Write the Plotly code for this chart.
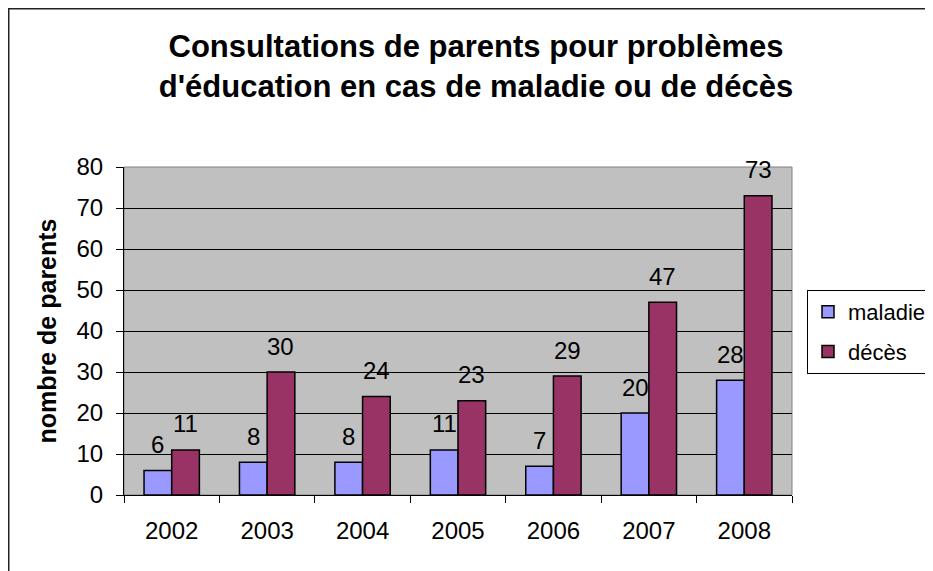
import plotly.graph_objects as go

YEARS = ["2002", "2003", "2004", "2005", "2006", "2007", "2008"]
MALADIE = [6, 8, 8, 11, 7, 20, 28]
DECES = [11, 30, 24, 23, 29, 47, 73]
SERIES = [("maladie", MALADIE, "#9999FF"), ("décès", DECES, "#993366")]
TITLE = "Consultations de parents pour problèmes<br>d'éducation en cas de maladie ou de décès"
Y_TITLE = "nombre de parents"

FONT = "Liberation Sans, Arial, sans-serif"
# the page body has an 8px margin, so the figure is 8px smaller than the window
W, H = 925, 563
M = dict(l=116, r=141, t=159, b=76)
PLOT_W = W - M["l"] - M["r"]
PLOT_H = H - M["t"] - M["b"]
BARGAP = 0.42
BAR_PX = PLOT_W / len(YEARS) * (1 - BARGAP) / 2


def px_x(p):
    # page pixel -> paper fraction
    return (p - 8 - M["l"]) / PLOT_W


def px_y(p):
    return (H - M["b"] - (p - 8)) / PLOT_H


fig = go.Figure()
for name, values, color in SERIES:
    fig.add_trace(go.Bar(
        x=YEARS, y=values, name=name, legendgroup=name,
        marker=dict(color=color, line=dict(color="black", width=1.5)),
        hoverinfo="x+y+name",
    ))

# data labels above each bar (category index as x so "2002" isn't read as a number)
for i, (name, values, color) in enumerate(SERIES):
    shift = (i - 0.5) * BAR_PX
    for j, v in enumerate(values):
        fig.add_annotation(
            x=j, y=v, text=str(v), showarrow=False,
            xshift=shift, yanchor="middle", yshift=26,
            font=dict(size=24, color="black", family=FONT),
        )

# outer chart frame (runs off the right and bottom edges)
fig.add_shape(
    type="rect", xref="paper", yref="paper",
    x0=px_x(8.75), x1=px_x(W + 30), y0=px_y(H + 30), y1=px_y(8.75),
    line=dict(color="#222222", width=1.5), layer="below",
)
# plot area border
fig.add_shape(
    type="rect", xref="paper", yref="paper", x0=0, x1=1, y0=0, y1=1,
    line=dict(color="#808080", width=1), layer="below",
)

fig.update_layout(
    width=W, height=H,
    margin=dict(**M, autoexpand=False),
    paper_bgcolor="white",
    plot_bgcolor="#C0C0C0",
    font=dict(family=FONT, size=24, color="black"),
    barmode="group", bargap=BARGAP, bargroupgap=0,
    title=dict(
        text=TITLE, x=(476 - 8) / W, xanchor="center", xref="container",
        y=1 - 49 / H, yanchor="top", yref="container",
        font=dict(size=31, family=FONT, color="black", weight="bold"),
    ),
    showlegend=True,
    legend=dict(
        x=px_x(807), xanchor="left", y=px_y(290), yanchor="top",
        bordercolor="black", borderwidth=1, bgcolor="white",
        font=dict(size=22, family=FONT), tracegroupgap=8,
    ),
)
fig.update_xaxes(
    type="category", range=[-0.5, len(YEARS) - 0.5],
    showline=True, linecolor="black", linewidth=1,
    ticks="outside", tickson="boundaries", ticklen=7, tickcolor="black",
    ticklabelstandoff=14, showgrid=False,
)
fig.update_yaxes(
    range=[0, 80], dtick=10, showline=True, linecolor="black", linewidth=1,
    ticks="outside", ticklen=7, tickcolor="black", ticklabelstandoff=8,
    showgrid=True, gridcolor="black", gridwidth=1, zeroline=False,
    title=dict(text=Y_TITLE, font=dict(size=25, family=FONT, weight="bold"), standoff=12),
)

fig.write_html("out.html")
